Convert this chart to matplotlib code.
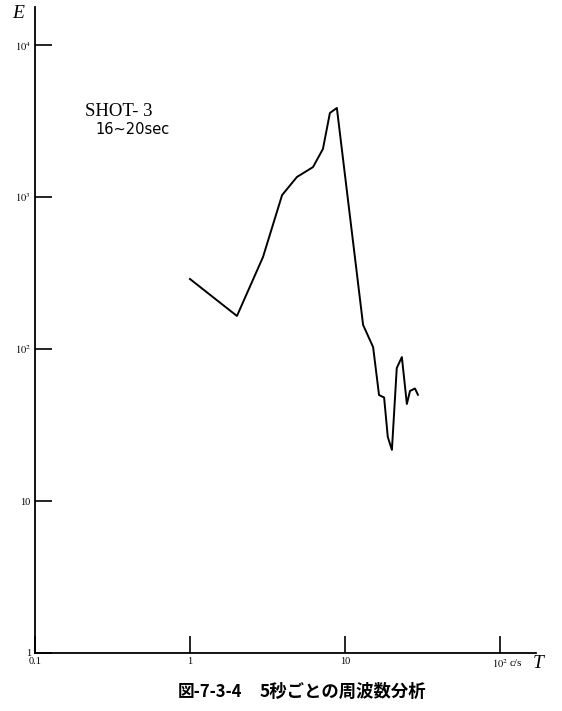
import matplotlib
matplotlib.use("Agg")
import matplotlib.pyplot as plt

# Data (frequency c/s, energy E)
freq = [1.0, 2.01, 2.96, 3.93, 4.90, 6.22, 7.21, 8.0, 8.87, 13.1, 15.2, 16.6,
        17.9, 18.9, 20.1, 21.6, 23.3, 25.1, 26.3, 28.3, 29.6]
energy = [289, 165, 403, 1030, 1355, 1574, 2070, 3575, 3855, 144, 103, 49.8,
          48, 26.4, 21.7, 75, 88.5, 43.5, 53, 55, 50]

xticks = [0.1, 1, 10, 100]
xticklabels = ["0.1", "1", "10", r"$10^2$"]
yticks = [1, 10, 100, 1000, 10000]
yticklabels = ["1", "10", r"$10^2$", r"$10^3$", r"$10^4$"]

plt.rcParams['mathtext.fontset'] = 'stix'
plt.rcParams['font.family'] = ['Liberation Serif', 'DejaVu Serif']

fig = plt.figure(figsize=(5.62, 7.11), dpi=100)
ax = fig.add_axes([35/562, 58/711, (536-35)/562, (653-7)/711])
ax.plot(freq, energy, color='black', lw=1.4)
ax.set_xscale('log')
ax.set_yscale('log')
ax.set_xlim(0.1, 171)
ax.set_ylim(1, 17800)
for s in ['top', 'right']:
    ax.spines[s].set_visible(False)
for s in ['left', 'bottom']:
    ax.spines[s].set_linewidth(1.3)
ax.set_xticks(xticks)
ax.set_xticklabels(xticklabels, fontsize=7.5)
ax.set_yticks(yticks)
ax.set_yticklabels(yticklabels, fontsize=7.5)
ax.minorticks_off()
ax.tick_params(axis='both', direction='in', length=12, width=1.2, pad=3)

fig.text(85/562, 1 - 112/711, "SHOT- 3", fontsize=13.5, ha='left', va='center')
fig.text(95/562, 1 - 129/711, "16~20sec", fontsize=10.5, ha='left', va='center',
         family=['DejaVu Sans'])

fig.text(18/562, 1 - 14/711, "E", fontsize=14, style='italic', ha='center', va='center')
fig.text(510/562, 1 - 664/711, "c/s", fontsize=8, ha='left', va='center')
fig.text(538/562, 1 - 664/711, "T", fontsize=14, style='italic', ha='center', va='center')

cap_fam = ['Noto Sans CJK JP', 'DejaVu Sans']
fig.text(178/562, 1 - 692/711, "図-7-3-4", fontsize=12, fontweight='bold',
         ha='left', va='center', family=cap_fam)
fig.text(260/562, 1 - 692/711, "5秒ごとの周波数分析", fontsize=12.5,
         fontweight='bold', ha='left', va='center', family=cap_fam)

fig.savefig("out.png", dpi=100)
